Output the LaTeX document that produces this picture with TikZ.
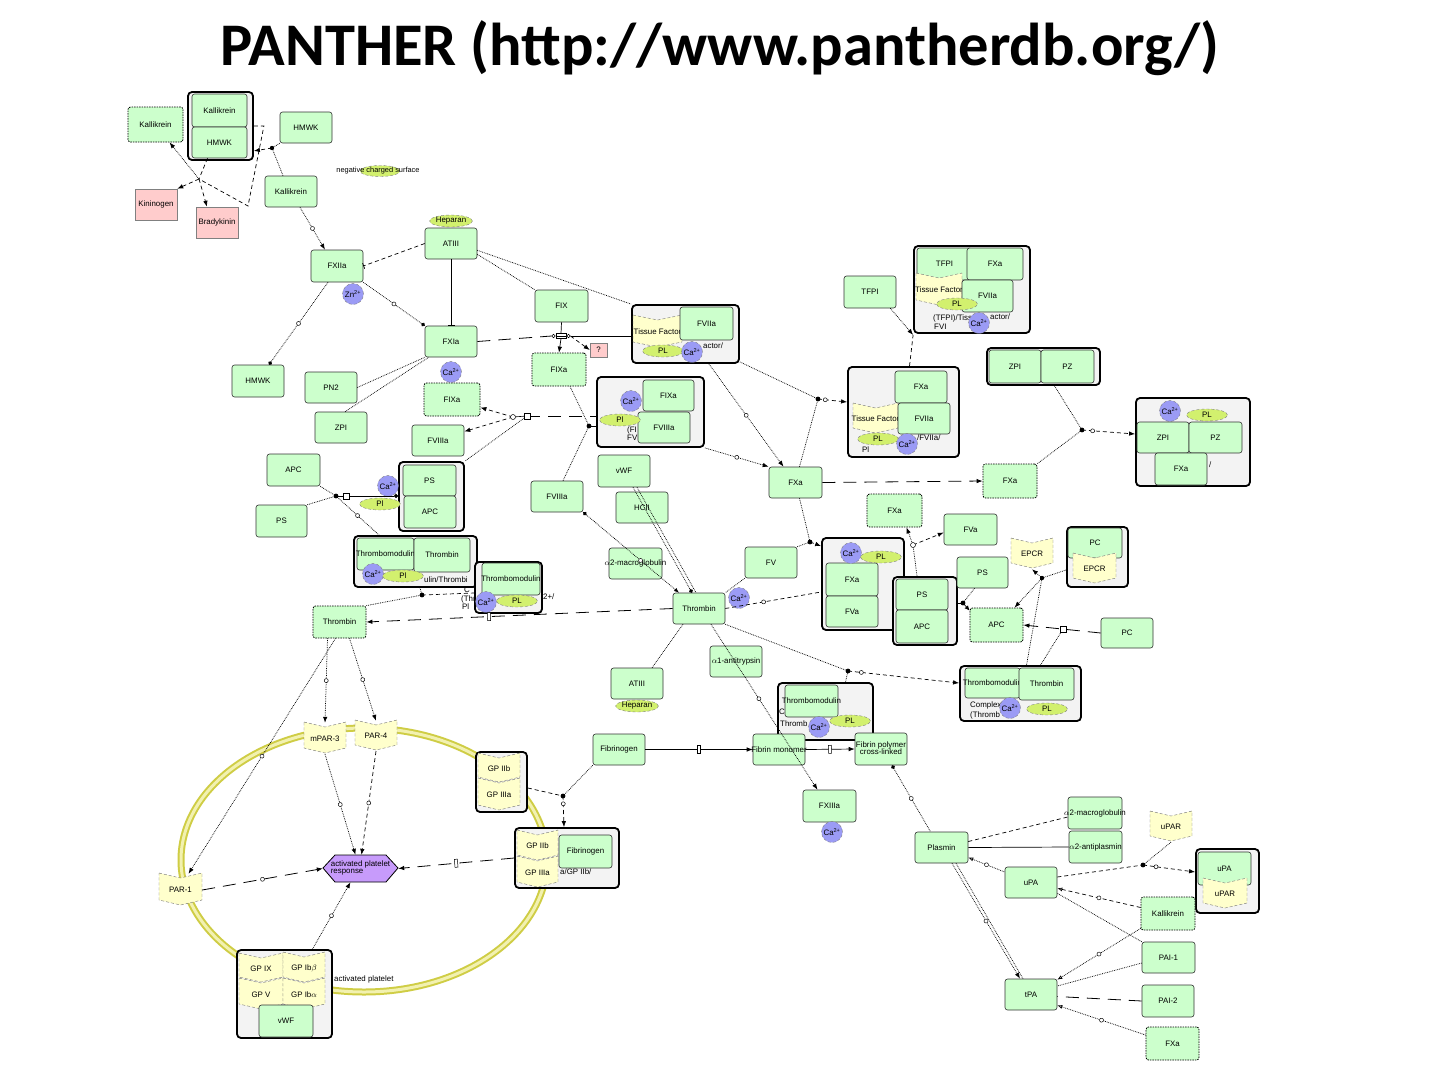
\documentclass[tikz,border=0pt]{standalone}
\usepackage{fontspec}
\newfontfamily\nodefont{Liberation Sans}
\newfontfamily\titlefont{Carlito}
\usetikzlibrary{arrows.meta,shapes.geometric,decorations.markings,calc}
\definecolor{grn}{HTML}{CCFFCC}
\definecolor{ylw}{HTML}{FFFFCC}
\definecolor{pnk}{HTML}{FFCCCC}
\definecolor{caB}{HTML}{9B9BF5}
\definecolor{plG}{HTML}{D2F06E}
\definecolor{hexP}{HTML}{C79BFB}
\definecolor{cgray}{HTML}{F3F3F3}
\definecolor{ringO}{HTML}{CFCD45}
\definecolor{ringI}{HTML}{F2F1B0}
\newcommand\nf{\nodefont\fontsize{7.9}{8.9}\selectfont}
\newcommand\GB[7][gbox]{%
  \pgfmathsetmacro\myCx{(#3+#5)/2}%
  \pgfmathsetmacro\myCy{(#4+#6)/2}%
  \pgfmathsetmacro\myW{#5-#3}%
  \pgfmathsetmacro\myH{#6-#4}%
  \node[#1,minimum width=\myW pt,minimum height=\myH pt] (#2) at (\myCx,\myCy) {\makebox[0pt]{#7}};}
\newcommand\CH[6]{%
  \pgfmathsetmacro\myCx{(#2+#4)/2}%
  \pgfmathsetmacro\myCy{(#3+#5)/2}%
  \pgfmathsetmacro\myW{#4-#2}%
  \pgfmathsetmacro\myH{#5-#3}%
  \filldraw[chev] (#2,#3) -- (\myCx,#3+5) -- (#4,#3) -- (#4,#5-5) -- (\myCx,#5) -- (#2,#5-5) -- cycle;
  \node[font=\nf,inner sep=0pt,minimum width=\myW pt,minimum height=\myH pt] (#1) at (\myCx,\myCy+1) {\makebox[0pt]{#6}};}
\begin{document}
\begin{tikzpicture}[x=1pt,y=-1pt,
  gbox/.style={draw=black!80,fill=grn,rounded corners=2.5pt,line width=0.6pt,inner sep=0pt,font=\nf},
  gdash/.style={gbox,draw=black,dash pattern=on 1.5pt off 1pt,line width=0.8pt},
  pbox/.style={draw=black!50,fill=pnk,line width=0.5pt,inner sep=0pt,font=\nf},
  cplx/.style={draw=black,fill=cgray,rounded corners=4pt,line width=1.8pt,inner sep=0pt},
  chev/.style={fill=ylw,draw=black!55,densely dashed,line width=0.4pt},
  ca/.style={circle,fill=caB,draw=black!50,densely dashed,line width=0.4pt,inner sep=0pt,minimum size=21pt,font=\nf},
  pl/.style={ellipse,fill=plG,draw=black!50,densely dashed,line width=0.4pt,inner sep=0pt,minimum width=41pt,minimum height=12pt,font=\nf},
  lbl/.style={font=\nf,inner sep=0pt,anchor=west},
  dt/.style={densely dotted,line width=0.75pt},
  ds/.style={dash pattern=on 4pt off 3pt,line width=0.7pt},
  ld/.style={dash pattern=on 13pt off 8pt,line width=0.8pt},
  sl/.style={line width=0.7pt},
  arr/.style={-{Latex[length=6pt,width=4.5pt]}},
  oarr/.style={-{Latex[open,length=5pt,width=4pt]}},
  dotend/.style={-{Circle[length=4pt]}},
  midmk/.style={postaction={decorate,decoration={markings,mark=at position #1 with {\draw[solid,fill=white,line width=0.5pt,-] (0,0) circle (2pt);}}}},
  midmk/.default=0.5,
  tkmk/.style={postaction={decorate,decoration={markings,mark=at position #1 with {\draw[solid,fill=white,line width=0.5pt,-] (-1.5pt,-4pt) rectangle (1.5pt,4pt);}}}},
  tkmk/.default=0.5]
\useasboundingbox (0,0) rectangle (1440,1080);
\fill[white] (0,0) rectangle (1440,1080);

% title
\node[font=\titlefont\bfseries\fontsize{60.5}{66}\selectfont,anchor=base,inner sep=0pt] (title) at (720,65) {PANTHER (http://www.pantherdb.org/)};

% platelet membrane ring
\draw[line width=7pt,ringO] (364,860) ellipse [x radius=183, y radius=132];
\draw[line width=3pt,ringI] (364,860) ellipse [x radius=183, y radius=132];

% ---------- top left ----------
\GB[gdash]{kal1}{128}{107}{183}{142}{Kallikrein}
\GB[cplx]{cxKH}{188}{92}{253}{160}{}
\GB{kal2}{192}{94}{247}{127}{Kallikrein}
\GB{hmwk1}{192}{127}{247}{158}{HMWK}
\GB{hmwk2}{280}{112}{332}{143}{HMWK}
\node[ellipse,fill=plG,draw=black!50,densely dashed,line width=0.4pt,minimum width=40pt,minimum height=11pt,inner sep=0pt] (ncsE) at (380,171) {};
\node[font=\nodefont\fontsize{7.4}{8}\selectfont,inner sep=0pt] (ncs) at (378,171) {negative charged surface};
\GB{kal3}{265}{176}{317}{207}{Kallikrein}
\GB[pbox]{kinin}{135}{189}{177}{220}{Kininogen}
\GB[pbox]{brady}{196}{207}{238}{238}{Bradykinin}
\node[pl] (hep1) at (451,221) {Heparan};
\GB{atiii1}{425}{228}{477}{259}{ATIII}
\GB{fxiia}{311}{250}{363}{282}{FXIIa}
\node[ca] (zn) at (353,294) {Zn\textsuperscript{2+}};
\GB{fxia}{425}{326}{477}{357}{FXIa}
\node[ca] (ca1) at (451,372) {Ca\textsuperscript{2+}};
\GB{hmwk3}{232}{365}{284}{397}{HMWK}
\GB{pn2}{305}{372}{357}{403}{PN2}
\GB[gdash]{fixa1}{424}{383}{480}{416}{FIXa}
\GB{zpi1}{315}{412}{367}{443}{ZPI}
\GB{fviiia1}{412}{425}{464}{456}{FVIIIa}
\GB{apc1}{267}{454}{320}{486}{APC}
\GB{ps1}{256}{505}{307}{537}{PS}

% PS/APC complex 1
\GB[cplx]{cxPSAPC1}{399}{462}{464}{531}{}
\GB{ps2}{403}{465}{456}{496}{PS}
\GB{apc2}{404}{496}{456}{528}{APC}
\node[ca] (ca2) at (388,486) {Ca\textsuperscript{2+}};
\node[pl] (pl1) at (380,504) {Pl};

% Thrombomodulin/Thrombin complex 1
\GB[cplx]{cxTMT1}{354}{536}{477}{587}{}
\GB{tm1}{357}{538}{414}{570}{Thrombomodulin}
\GB{thr1}{414}{538}{470}{572}{Thrombin}
\node[lbl] (lbTM1) at (424,580) {ulin/Thrombi};
\node[ca] (ca3) at (373,574) {Ca\textsuperscript{2+}};
\node[pl] (pl2) at (403,576) {Pl};

% Thrombomodulin complex 2
\GB[cplx]{cxTMT2}{475}{562}{542}{613}{}
\GB{tm2}{482}{563}{540}{595}{Thrombomodulin}
\node[lbl] (lbTM2a) at (464,590) {C};
\node[lbl] (lbTM2b) at (461,599) {(Thr};
\node[lbl] (lbTM2c) at (462,607) {Pl};
\node[ca] (ca4) at (486,602) {Ca\textsuperscript{2+}};
\node[pl] (pl3) at (517,601) {PL};
\node[lbl] (lbTM2d) at (543,597) {2+/};
\GB[gdash]{thr2}{313}{606}{366}{638}{Thrombin}

% FIX activation
\GB{fix}{535}{290}{588}{322}{FIX}
\GB[gdash]{fixa2}{532}{353}{586}{386}{FIXa}
\GB[pbox]{qm}{590}{343}{607}{357}{?}

% TF/FVIIa complex
\GB[cplx]{cxTF}{632}{305}{739}{363}{}
\CH{tf1}{633}{315}{682}{347}{Tissue Factor}
\GB{fviia1}{680}{307}{733}{340}{FVIIa}
\node[lbl] (lbTF) at (703,346) {actor/};
\node[pl] (pl4) at (663,351) {PL};
\node[ca] (ca5) at (692,352) {Ca\textsuperscript{2+}};

% tenase complex
\GB[cplx]{cxTen}{597}{377}{704}{447}{}
\GB{fixa3}{643}{380}{694}{411}{FIXa}
\node[lbl] (lbTen1) at (627,430) {(FI};
\node[lbl] (lbTen2) at (627,438) {FVI};
\GB{fviiia2}{638}{412}{690}{443}{FVIIIa}
\node[ca] (ca6) at (631,401) {Ca\textsuperscript{2+}};
\node[pl] (pl5) at (620,420) {Pl};

\GB{vwf1}{598}{455}{650}{487}{vWF}
\GB{fviiia3}{531}{481}{583}{512}{FVIIIa}
\GB{hcii}{616}{492}{668}{523}{HCII}
\GB{a2m1}{609}{548}{662}{579}{$\alpha$2-macroglobulin}
\GB{thr3}{673}{593}{725}{624}{Thrombin}
\node[ca] (ca7) at (739,598) {Ca\textsuperscript{2+}};
\GB{fv}{745}{547}{797}{578}{FV}
\GB{a1at}{710}{646}{762}{677}{$\alpha$1-antitrypsin}
\GB{atiii2}{611}{668}{663}{699}{ATIII}
\node[pl] (hep2) at (637,706) {Heparan};
\GB{fxa1}{769}{467}{822}{498}{FXa}

% TFPI complex
\GB{tfpi1}{844}{276}{896}{308}{TFPI}
\GB[cplx]{cxTFPI}{914}{246}{1030}{333}{}
\GB{tfpi2}{917}{248}{972}{280}{TFPI}
\GB{fxa2}{967}{248}{1023}{280}{FXa}
\CH{tf2}{916}{273}{962}{305}{Tissue Factor}
\GB{fviia2}{962}{280}{1013}{312}{FVIIa}
\node[pl] (pl6) at (957,304) {PL};
\node[lbl] (lbTP1) at (933,318) {(TFPI)/Tiss};
\node[lbl] (lbTP3) at (990,317) {actor/};
\node[lbl] (lbTP2) at (934,327) {FVI};
\node[ca] (ca8) at (979,323) {Ca\textsuperscript{2+}};

% TF/FVIIa/FXa complex
\GB[cplx]{cxTFX}{848}{367}{959}{457}{}
\GB{fxa3}{895}{371}{947}{403}{FXa}
\CH{tf3}{853}{403}{898}{433}{Tissue Factor}
\GB{fviia3}{898}{403}{950}{434}{FVIIa}
\node[lbl] (lbTFX1) at (917,438) {/FVIIa/};
\node[lbl] (lbTFX2) at (862,450) {Pl};
\node[pl] (pl7) at (878,439) {PL};
\node[ca] (ca9) at (907,444) {Ca\textsuperscript{2+}};

% ZPI/PZ
\GB[cplx]{cxZP}{987}{348}{1100}{385}{}
\GB{zpi2}{989}{350}{1041}{383}{ZPI}
\GB{pz1}{1041}{350}{1094}{383}{PZ}
\GB[gdash]{fxa4}{983}{464}{1037}{498}{FXa}
\GB[cplx]{cxZPF}{1136}{398}{1250}{486}{}
\node[ca] (ca10) at (1170,411) {Ca\textsuperscript{2+}};
\node[pl] (pl8) at (1207,415) {PL};
\GB{zpi3}{1137}{422}{1189}{453}{ZPI}
\GB{pz2}{1189}{422}{1242}{453}{PZ}
\GB{fxa5}{1155}{453}{1207}{485}{FXa}
\node[lbl] (lbZPF) at (1209,465) {/};

% prothrombinase etc.
\GB[gdash]{fxa6}{867}{494}{922}{527}{FXa}
\GB{fva1}{944}{514}{997}{545}{FVa}
\GB[cplx]{cxPro}{822}{538}{904}{630}{}
\GB{fxa7}{826}{563}{878}{596}{FXa}
\GB{fva2}{826}{596}{878}{627}{FVa}
\node[ca] (ca11) at (851,553) {Ca\textsuperscript{2+}};
\node[pl] (pl9) at (881,557) {PL};
\GB[cplx]{cxPSAPC2}{893}{577}{957}{645}{}
\GB{ps3}{896}{579}{948}{610}{PS}
\GB{apc3}{896}{610}{948}{643}{APC}
\GB{ps4}{957}{557}{1008}{588}{PS}
\GB[gdash]{apc4}{970}{608}{1023}{642}{APC}
\CH{epcr1}{1011}{538}{1053}{568}{EPCR}
\GB[cplx]{cxPCE}{1067}{527}{1128}{587}{}
\GB{pc1}{1068}{528}{1122}{558}{PC}
\CH{epcr2}{1073}{553}{1116}{583}{EPCR}
\GB{pc2}{1101}{618}{1153}{648}{PC}

% Thrombomodulin/Thrombin complex 3
\GB[cplx]{cxTMT3}{960}{666}{1081}{721}{}
\GB{tm3}{965}{668}{1020}{698}{Thrombomodulin}
\GB{thr4}{1019}{668}{1074}{700}{Thrombin}
\node[lbl] (lbTM3a) at (970,705) {Complex};
\node[lbl] (lbTM3b) at (970,715) {(Thromb};
\node[ca] (ca12) at (1010,708) {Ca\textsuperscript{2+}};
\node[pl] (pl10) at (1047,709) {PL};

% Thrombomodulin complex 4
\GB[cplx]{cxTMT4}{778}{683}{873}{740}{}
\node[lbl] (lbTM4a) at (779,712) {C};
\node[lbl] (lbTM4b) at (780,724) {Thromb};
\GB{tm4}{785}{685}{838}{717}{Thrombomodulin}
\node[ca] (ca13) at (819,727) {Ca\textsuperscript{2+}};
\node[pl] (pl11) at (850,721) {PL};

% fibrin
\GB{fibrinogen1}{593}{734}{645}{765}{Fibrinogen}
\GB{fibmon}{753}{734}{805}{765}{Fibrin monomer}
\GB{fibpol}{855}{733}{907}{765}{\begin{tabular}{@{}c@{}}Fibrin polymer\\[-2pt]cross-linked\end{tabular}}
\GB{fxiiia}{803}{790}{856}{822}{FXIIIa}
\node[ca] (ca14) at (832,832) {Ca\textsuperscript{2+}};

% platelet
\CH{mpar3}{304}{722}{346}{753}{mPAR-3}
\CH{par4}{355}{720}{397}{750}{PAR-4}
\CH{par1}{159}{873}{202}{905}{PAR-1}
\filldraw[fill=hexP,draw=black,line width=0.8pt] (323,868) -- (335,855) -- (386,855) -- (398,868) -- (386,882) -- (335,882) -- cycle;
\node[font=\nf,inner sep=0pt,minimum width=75pt,minimum height=27pt] (hexn) at (360.5,868.5) {\begin{tabular}{@{}l@{}}activated platelet\\[-2pt]response\end{tabular}};
\GB[cplx]{cxGP1}{476}{752}{527}{812}{}
\CH{gpiib1}{478}{753}{520}{782}{GP IIb}
\CH{gpiiia1}{478}{778}{520}{810}{GP IIIa}
\GB[cplx]{cxGPF}{515}{828}{619}{888}{}
\node[lbl] (lbGPF) at (560,872) {a/GP IIb/};
\CH{gpiib2}{517}{830}{558}{860}{GP IIb}
\CH{gpiiia2}{517}{856}{558}{887}{GP IIIa}
\GB{fibrinogen2}{559}{835}{612}{868}{Fibrinogen}
\GB[cplx]{cxGPIB}{237}{950}{332}{1038}{}
\CH{gpix}{239}{953}{283}{982}{GP IX}
\CH{gpibb}{283}{952}{325}{982}{GP Ib$\beta$}
\CH{gpv}{239}{978}{283}{1009}{GP V}
\CH{gpiba}{283}{978}{325}{1009}{GP Ib$\alpha$}
\GB{vwf2}{259}{1005}{313}{1037}{vWF}
\node[lbl] (lbAP) at (334,979) {activated platelet};

% fibrinolysis
\GB{plasmin}{915}{832}{968}{863}{Plasmin}
\GB{a2m2}{1068}{797}{1122}{829}{$\alpha$2-macroglobulin}
\GB{a2ap}{1069}{831}{1122}{863}{$\alpha$2-antiplasmin}
\CH{upar1}{1150}{811}{1192}{841}{uPAR}
\GB[cplx]{cxUPA}{1196}{849}{1259}{913}{}
\GB{upa1}{1198}{852}{1251}{885}{uPA}
\CH{upar2}{1203}{878}{1247}{908}{uPAR}
\GB{upa2}{1005}{867}{1057}{898}{uPA}
\GB[gdash]{kal4}{1141}{897}{1195}{930}{Kallikrein}
\GB{pai1}{1142}{942}{1195}{973}{PAI-1}
\GB{pai2}{1142}{985}{1194}{1017}{PAI-2}
\GB[gdash]{fxa8}{1146}{1027}{1199}{1060}{FXa}
\GB{tpa}{1005}{979}{1057}{1010}{tPA}

% ================= connectors =================
% kallikrein / HMWK
\coordinate (rK) at (199,179);
\coordinate (rKb) at (248,206);
\draw[ds] ([xshift=-12pt]hmwk1.south) -- (rK);
\draw[ds,arr] (rK) -- (kinin.north east);
\draw[ds,arr] (rK) -- ([xshift=-10pt]brady.north);
\draw[dt,arr] (rK) -- ([xshift=14pt]kal1.south);
\draw[ds] (cxKH.east) -- ++(10,0) -- (rKb) -- (rK);
\coordinate (rH) at (272,148);
\draw[dt] ([xshift=-8pt]kal3.north) -- (rH);
\draw[dt] (hmwk2.south west) -- (rH);
\draw[ds,arr] (rH) -- ([yshift=10pt]cxKH.south east);
\fill (rH) circle (2.2);
\draw[dt,arr,midmk] ([xshift=9pt]kal3.south) -- ([xshift=-12pt]fxiia.north);
\draw[ds,-{Bar[width=6pt]}] (atiii1.west) -- (fxiia.east);
\draw[sl,-{Bar[width=7pt]}] (atiii1.south) -- (fxia.north);
\draw[dt,dotend,midmk] (fxiia.south east) -- (fxia.north west);
\draw[dt,dotend,midmk] ([xshift=-9pt]fxiia.south) -- ([xshift=11pt]hmwk3.north);
\draw[dt] (pn2.east) -- (fxia.south west);
\draw[dt] ([xshift=4pt]zpi1.north) -- ([xshift=4pt]fxia.south west);

% FIX activation
\coordinate (rFIXn) at (561,333.5);
\coordinate (rFIXs) at (561,338.5);
\coordinate (rFIXw) at (551.5,336);
\coordinate (rFIXe) at (570.5,336);
\draw[ld] (fxia.east) -- (rFIXw);
\draw[sl] (fix.south) -- (rFIXn);
\draw[sl,arr] (rFIXs) -- (fixa2.north);
\draw[ds,arr] (rFIXe) -- (qm.west);
\draw[sl] (rFIXe) -- (cxTF.west |- rFIXe);
\draw[line width=0.6pt,fill=white] (556,333.5) rectangle (566,338.5);
\draw[line width=0.5pt] (556,336) -- (566,336);
\draw[line width=0.5pt,fill=white] (553.5,336) circle (1.8) (568.5,336) circle (1.8);
\draw[dt] ([yshift=5pt]atiii1.south east) -- (fix.north west);
\draw[dt] ([yshift=9pt]atiii1.south east) -- (cxTF.north west);

% tenase
\coordinate (rT) at (589,426);
\draw[dt] ([xshift=11pt]fixa2.south) -- (rT);
\draw[dt] ([xshift=6pt]fviiia3.north) -- (rT);
\draw[sl] (rT) -- (cxTen.west |- rT);
\fill (rT) circle (2.4);
\coordinate (rAc) at (513,417);
\coordinate (rAs) at (527,416);
\draw[ld] (rAs) -- (cxTen.west |- rAs);
\draw[line width=0.6pt] (rAc) -- (rAs);
\draw[ds,arr] (rAc) -- ([yshift=-8pt]fixa1.east);
\draw[ds,arr] (rAc) -- ([yshift=9pt]fviiia1.east);
\draw[dt] (rAs) -- (cxPSAPC1.north east);
\draw[line width=0.5pt,fill=white] (rAc) circle (2.5);
\draw[line width=0.5pt,fill=white] ($(rAs)+(-3,-3)$) rectangle ($(rAs)+(3,3)$);

% FXa generation
\draw[dt,arr,midmk] ([xshift=-31pt]cxTF.south east) -- ([xshift=-12pt]fxa1.north);
\draw[dt,arr,midmk] (cxTen.south east) -- (fxa1.north west);
\coordinate (rTF) at (818,399);
\draw[dt] ([yshift=2pt]cxTF.south east) -- (rTF);
\draw[dt] ([xshift=4pt]fxa1.north) -- (rTF);
\draw[ds,arr,midmk=0.25] (rTF) -- ([yshift=10pt]cxTFX.west);
\fill (rTF) circle (2.4);
\draw[dt,arr] ([xshift=-6pt]tfpi1.south east) -- ([yshift=-1pt]cxTFPI.south west);
\draw[ds] ([xshift=6pt]cxTFX.north) -- ([yshift=-1pt]cxTFPI.south west);
\coordinate (rZP) at (1082,430);
\draw[dt] ([xshift=11pt]cxZP.south) -- (rZP);
\draw[dt] (fxa4.north east) -- (rZP);
\draw[ds,arr,midmk=0.2] (rZP) -- ([yshift=8pt]cxZPF.west);
\fill (rZP) circle (2.4);
\draw[ld,arr] (fxa1.east) -- (fxa4.west);

% prothrombinase
\coordinate (rPro) at (810,542);
\draw[dt] ([xshift=4pt]fxa1.south) -- (rPro);
\draw[dt] (fv.north east) -- (rPro);
\draw[ds,arr] (rPro) -- ([yshift=-9pt]cxPro.north west);
\fill (rPro) circle (2.4);
\draw[ds,midmk=0.4] (thr3.east) -- ([yshift=-8pt]cxPro.west);
\draw[dt] (fv.south west) -- (thr3.north east);
\coordinate (rPA2) at (913,545);
\draw[dt] ([xshift=-8pt]cxPSAPC2.north) -- (rPA2);
\draw[dt,arr] (rPA2) -- ([xshift=12pt]fxa6.south);
\draw[ds,arr] (rPA2) -- ([yshift=-3pt]fva1.west);
\draw[line width=0.5pt,fill=white] (rPA2) circle (2.5);
\coordinate (rA2) at (963,603);
\draw[sl] ([yshift=8pt]cxPSAPC2.east) -- (rA2);
\draw[dt] ([xshift=-8pt]ps4.south) -- (rA2);
\draw[sl,-{Latex[length=5pt,width=4.5pt]}] (rA2) -- ([yshift=-3pt]apc4.north west);
\fill (rA2) circle (2.4);
\coordinate (rPC) at (1042,578);
\draw[dt] ([yshift=-13pt]cxPCE.west) -- (rPC);
\draw[dt,arr] (rPC) -- (epcr1.south);
\draw[dt,arr] (rPC) -- ([xshift=18pt]apc4.north);
\draw[dt] ([xshift=6pt]cxTMT3.north) -- (rPC);
\fill (rPC) circle (2.2);
\coordinate (rPCs) at (1063,629);
\draw[ld,arr] (pc2.west) -- (apc4.east);
\draw[dt] ([xshift=20pt]cxTMT3.north) -- (rPCs);
\draw[line width=0.5pt,fill=white] ($(rPCs)+(-3,-3)$) rectangle ($(rPCs)+(3,3)$);

% thrombin
\draw[dt,dotend] ([xshift=9pt]vwf1.south) -- ([xshift=-7pt]thr3.north);
\draw[dt] ([xshift=13pt]vwf1.south) -- ([xshift=-3pt]thr3.north);
\draw[dt,{Circle[length=4pt]}-{Latex[length=5pt,width=4pt]},midmk=0.6] (fviiia3.south east) -- ([xshift=-20pt]thr3.north);
\draw[ld,arr,tkmk=0.6] (thr3.west) -- (thr2.east);
\draw[dt] ([xshift=-16pt]thr3.south) -- ([xshift=15pt]atiii2.north);
\draw[dt,arr,midmk=0.45] ([xshift=12pt]thr3.south) -- ([xshift=-12pt]fxiiia.north);
\coordinate (rTM2) at (848,671);
\draw[dt] (thr3.south east) -- (rTM2);
\draw[dt] ([xshift=20pt]cxTMT4.north) -- (rTM2);
\draw[ds,arr,midmk=0.12] (rTM2) -- ([yshift=10.5pt]cxTMT3.west);
\fill (rTM2) circle (2.4);

% PS/APC and thrombomodulin (left)
\coordinate (rP1) at (336,496);
\coordinate (rP1s) at (346,496);
\draw[dt] (apc1.south east) -- (rP1);
\draw[dt] (ps1.north east) -- (rP1);
\draw[line width=0.6pt] (rP1) -- (rP1s);
\draw[line width=0.6pt,dotend] (rP1s) -- (cxPSAPC1.west |- rP1s);
\draw[dt,midmk] (rP1) -- ([xshift=26pt]cxTMT1.north west);
\fill (rP1) circle (2.4);
\draw[line width=0.5pt,fill=white] ($(rP1s)+(-3,-3)$) rectangle ($(rP1s)+(3,3)$);
\coordinate (rTM) at (422,595);
\draw[dt] (thr2.north east) -- (rTM);
\draw[dt] (rTM) -- ([xshift=4.5pt]cxTMT1.south);
\draw[ds] (rTM) -- ([yshift=-5.5pt]cxTMT2.west);
\fill (rTM) circle (2.4);

% PAR / platelet
\draw[dt,arr,midmk] ([xshift=-12pt]thr2.south) -- (mpar3.north);
\draw[dt,arr,midmk] ([xshift=10pt]thr2.south) -- (par4.north);
\draw[dt,arr,midmk] ([xshift=-4pt]thr2.south) -- ([xshift=8pt]par1.north);
\draw[dt,arr,midmk] (mpar3.south) -- ([xshift=-5pt]hexn.north);
\draw[ds,arr,midmk] (par4.south) -- ([xshift=1pt]hexn.north);
\draw[ld,arr,midmk] (par1.east) -- (hexn.west);
\draw[dt,arr,midmk] ([xshift=28pt]cxGPIB.north) -- ([xshift=-10pt]hexn.south);
\draw[ld,arr,tkmk] (cxGPF.west) -- (hexn.east);
\coordinate (rGP) at (563,796);
\draw[ds] ([yshift=-6pt]cxGP1.east) -- (rGP);
\draw[dt] (fibrinogen1.south west) -- (rGP);
\draw[ds,arr,midmk=0.25] (rGP) -- ([xshift=-3pt]cxGPF.north);
\fill (rGP) circle (2.4);

% fibrin
\draw[sl,arr,tkmk] (fibrinogen1.east) -- (fibmon.west);
\draw[sl,arr,tkmk] (fibmon.east) -- (fibpol.west);
\draw[dt,{Circle[length=4pt]}-,midmk] ([xshift=11pt]fibpol.south) -- ([xshift=-11pt]plasmin.north);

% fibrinolysis
\draw[ds] ([yshift=6pt]plasmin.east) -- ([yshift=-4pt]a2m2.west);
\draw[sl] (plasmin.east) -- (a2ap.west);
\draw[dt,{Latex[open,length=5pt,width=4pt]}-,midmk] ([yshift=-10pt]plasmin.east) -- ([yshift=10.5pt]upa2.west);
\draw[dt,arr,midmk] ([xshift=10.5pt]plasmin.south) -- ([xshift=-11pt]tpa.north);
\draw[dt] ([xshift=14.5pt]plasmin.south) -- ([xshift=-8pt]tpa.north);
\coordinate (rU) at (1143,865);
\draw[ds] ([yshift=5.5pt]upa2.east) -- (rU);
\draw[dt] (upar1.south) -- (rU);
\draw[ds,arr,midmk=0.25] (rU) -- ([yshift=9pt]cxUPA.west);
\fill (rU) circle (2.4);
\draw[ds,oarr,midmk] ([yshift=6pt]kal4.west) -- ([yshift=10pt]upa2.south east);
\draw[dt] (pai1.north west) -- ([yshift=5pt]upa2.south east);
\draw[dt,oarr,midmk] ([yshift=2pt]kal4.south west) -- ([yshift=-1pt]tpa.north east);
\draw[dt] ([yshift=-5.5pt]pai1.west) -- ([yshift=8.5pt]tpa.east);
\draw[ld] (pai2.west) -- ([yshift=-2pt]tpa.east);
\draw[dt,oarr,midmk] ([yshift=8.5pt]fxa8.west) -- ([yshift=5pt]tpa.south east);
\end{tikzpicture}
\end{document}
